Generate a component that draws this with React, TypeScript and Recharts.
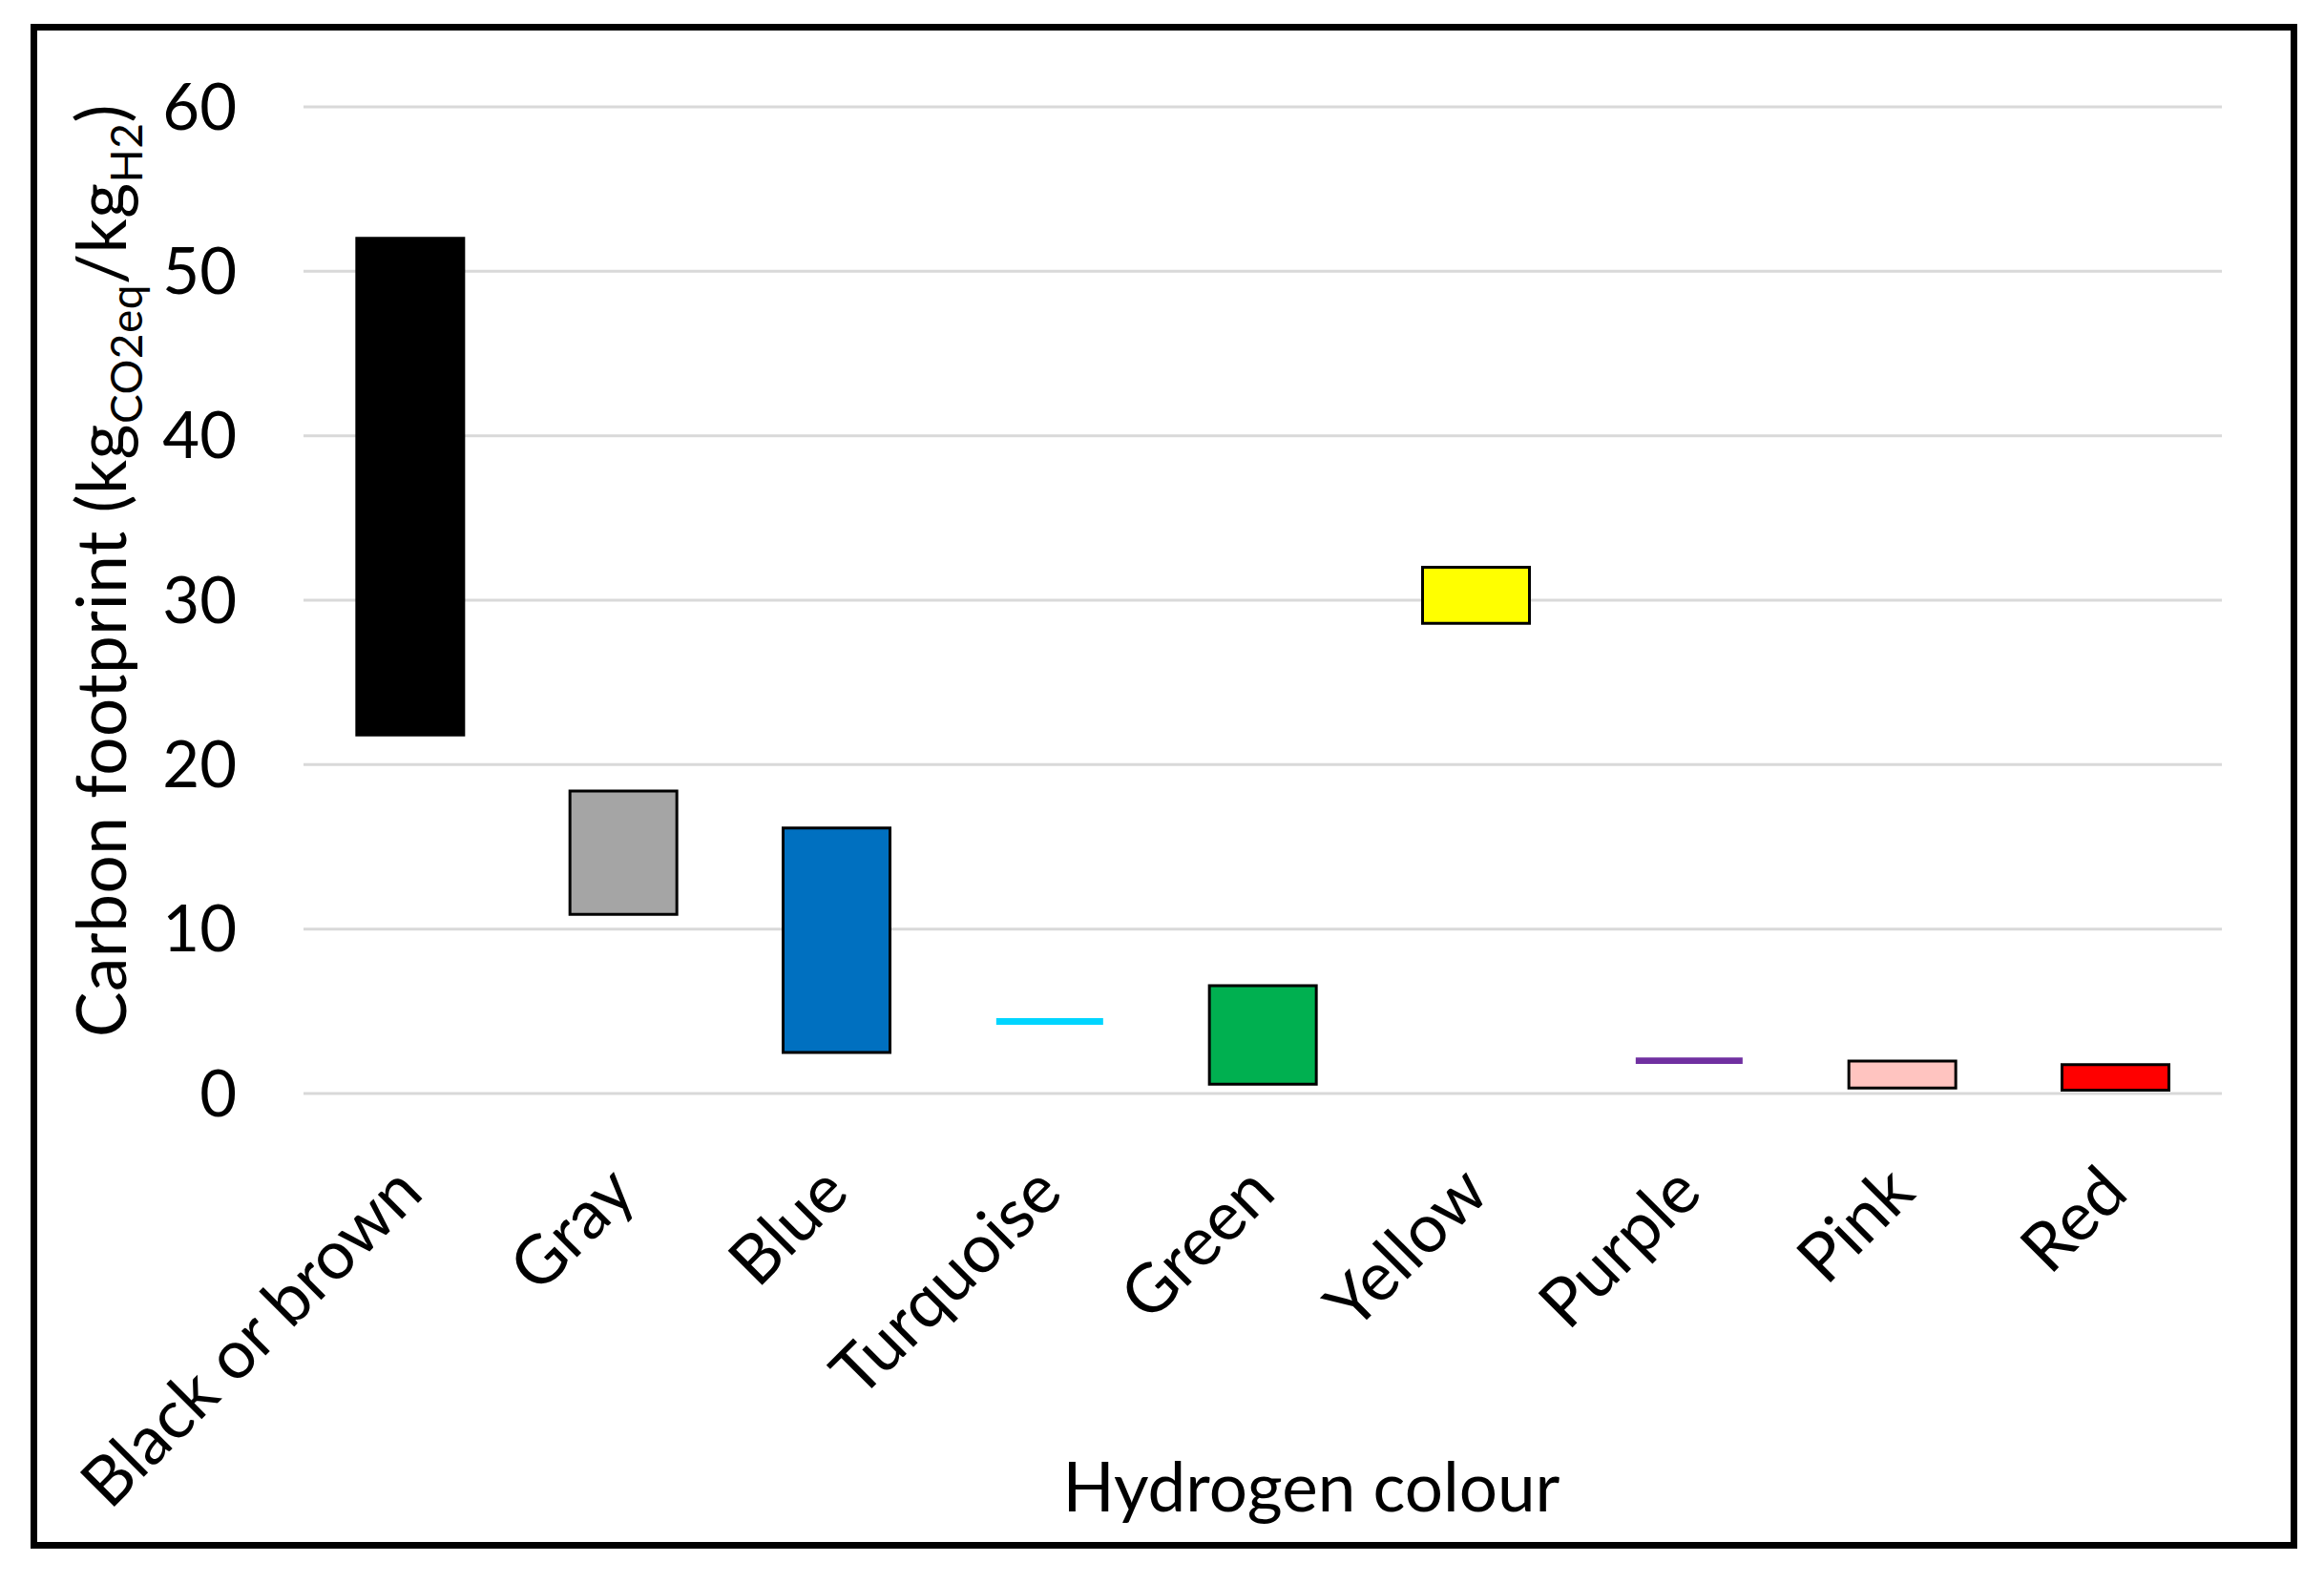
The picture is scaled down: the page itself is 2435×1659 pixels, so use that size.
import React from 'react';
import { BarChart, Bar, XAxis, YAxis, CartesianGrid, Cell, Label } from 'recharts';

const categories = ['Black or brown', 'Gray', 'Blue', 'Turquoise', 'Green', 'Yellow', 'Purple', 'Pink', 'Red'];
const lowValues = [21.8, 10.9, 2.5, 4.18, 0.57, 28.6, 1.8, 0.34, 0.21];
const highValues = [52.0, 18.4, 16.15, 4.58, 6.56, 32.0, 2.19, 1.97, 1.76];
const barColors = ['#000000', '#A5A5A5', '#0070C0', '#00D5FF', '#00B050', '#FFFF00', '#7030A0', '#FFC4C0', '#FF0000'];
const outlined = [true, true, true, false, true, true, false, true, true];
const yTicks = [0, 10, 20, 30, 40, 50, 60];

const data = categories.map((name, i) => ({ name, range: [lowValues[i], highValues[i]] }));

const FONT = 'Lato, "Open Sans", sans-serif';
const FS = 67;
const LFS = 71;
const TFS = 71;
const SUB = 46;

const XTick = (props: any) => {
  const { x, y, payload } = props;
  const ax = x + 16;
  const ay = y + 107;
  return (
    <text
      x={ax}
      y={ay}
      transform={`rotate(-45, ${ax}, ${ay})`}
      textAnchor="end"
      fontSize={LFS}
      fontFamily={FONT}
      fill="#000"
    >
      {payload.value}
    </text>
  );
};

const XTitle = (props: any) => {
  const vb = props.viewBox || { x: 318, y: 1146, width: 2010 };
  const cx = vb.x + vb.width / 2 + 51;
  return (
    <text x={cx} y={1584} textAnchor="middle" fontSize={LFS} fontFamily={FONT} fill="#000">
      Hydrogen colour
    </text>
  );
};

const YTitle = () => {
  const bx = 132;
  const cy = 598;
  return (
    <text
      transform={`translate(${bx}, ${cy}) rotate(-90)`}
      textAnchor="middle"
      fontSize={TFS}
      fontFamily={FONT}
      letterSpacing={0.5}
      fill="#000"
    >
      <tspan>Carbon footprint (kg</tspan>
      <tspan fontSize={SUB} dy={17}>CO2eq</tspan>
      <tspan dy={-17}>/kg</tspan>
      <tspan fontSize={SUB} dy={17}>H2</tspan>
      <tspan dy={-17}>)</tspan>
    </text>
  );
};

export default function App() {
  return (
    <div style={{ position: 'relative', width: 2435, height: 1659, background: '#fff' }}>
      <style>{'body{margin:0;background:#fff}'}</style>
      <BarChart
        width={2435}
        height={1659}
        data={data}
        margin={{ top: 112, right: 107, left: 0, bottom: 0 }}
        barCategoryGap="25%"
      >
        <CartesianGrid vertical={false} stroke="#D9D9D9" strokeWidth={3} />
        <XAxis
          dataKey="name"
          height={513}
          axisLine={false}
          tickLine={false}
          tickSize={0}
          tickMargin={0}
          interval={0}
          tick={<XTick />}
        >
          <Label content={<XTitle />} />
        </XAxis>
        <YAxis
          type="number"
          domain={[0, 60]}
          ticks={yTicks}
          width={318}
          axisLine={false}
          tickLine={false}
          tickSize={0}
          tickMargin={70}
          tick={{ fontSize: FS, fontFamily: FONT, fill: '#000' }}
        >
          <Label content={<YTitle />} />
        </YAxis>
        <Bar dataKey="range" isAnimationActive={false}>
          {data.map((d, i) => (
            <Cell
              key={d.name}
              fill={barColors[i]}
              stroke={outlined[i] ? '#000' : 'none'}
              strokeWidth={outlined[i] ? 3 : 0}
            />
          ))}
        </Bar>
      </BarChart>
      <div
        style={{
          position: 'absolute',
          left: 32,
          top: 25,
          width: 2375,
          height: 1598,
          border: '7px solid #000',
          boxSizing: 'border-box',
          pointerEvents: 'none',
        }}
      />
    </div>
  );
}
